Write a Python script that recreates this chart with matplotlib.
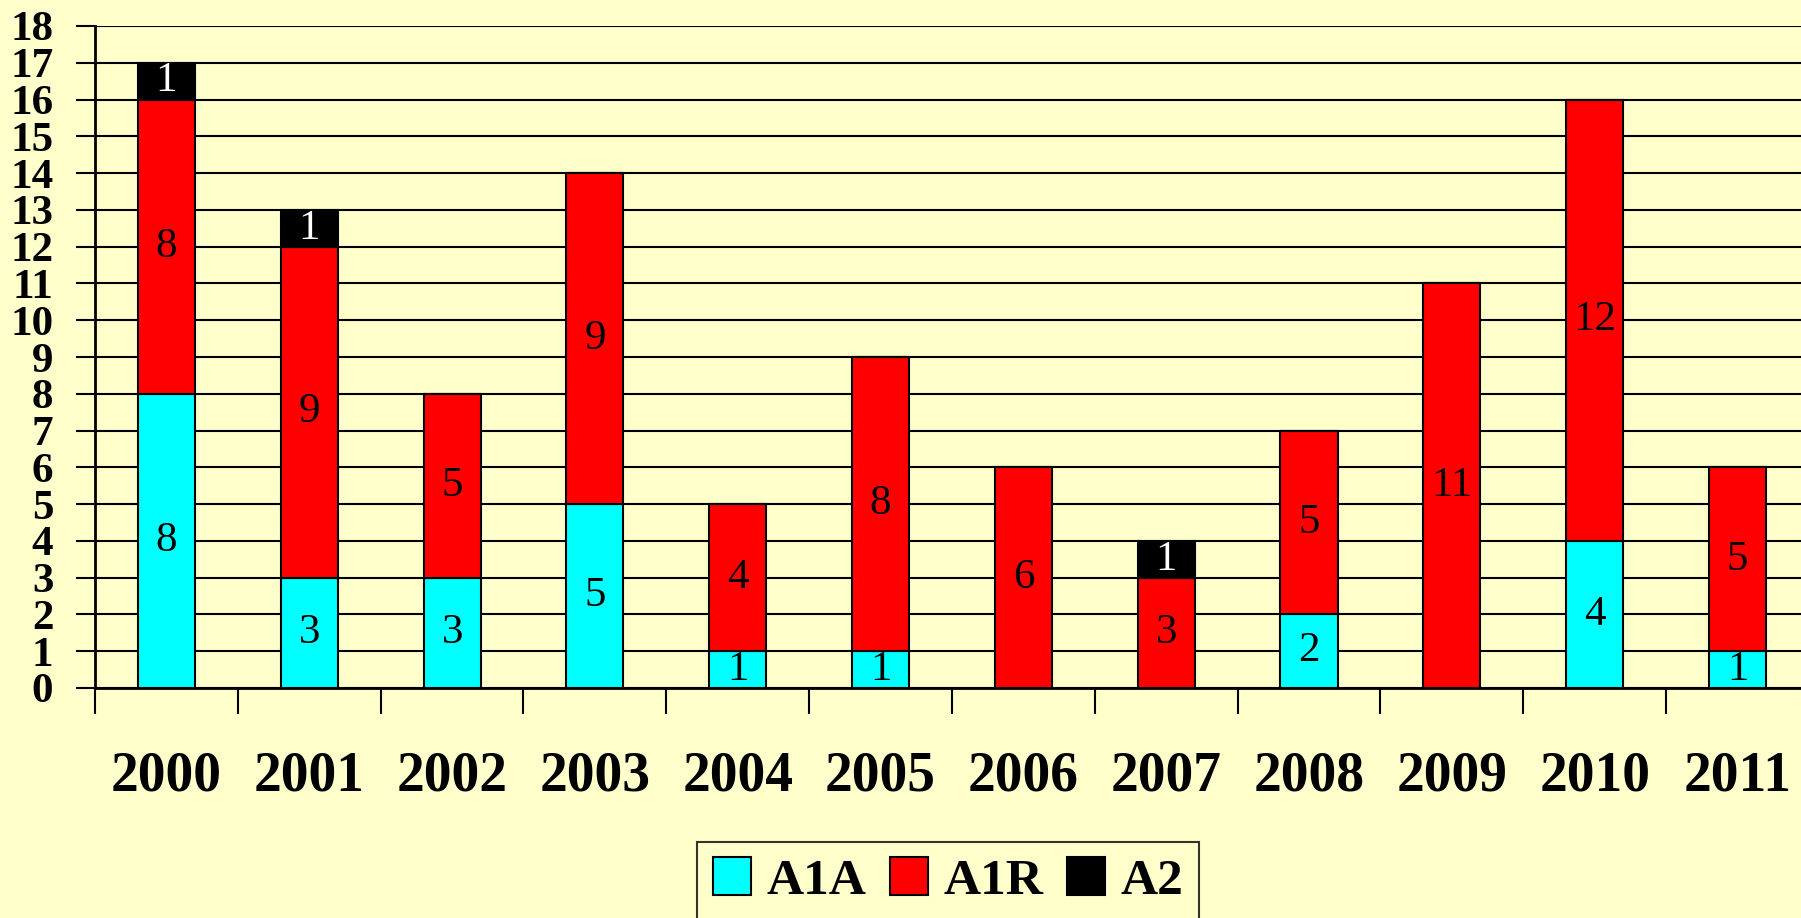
import numpy as np
import matplotlib
matplotlib.use("Agg")
import matplotlib.pyplot as plt
from matplotlib.patches import Patch

# Data
years = ["2000", "2001", "2002", "2003", "2004", "2005",
         "2006", "2007", "2008", "2009", "2010", "2011"]
a1a = [8, 3, 3, 5, 1, 1, 0, 0, 2, 0, 4, 1]
a1r = [8, 9, 5, 9, 4, 8, 6, 3, 5, 11, 12, 5]
a2 = [1, 1, 0, 0, 0, 0, 0, 1, 0, 0, 0, 0]
y_ticks = list(range(0, 19))

bg = "#FFFFCC"
plt.rcParams["font.family"] = ["Liberation Serif", "DejaVu Serif"]

fig = plt.figure(figsize=(18.01, 9.18), dpi=100, facecolor=bg)
ax = fig.add_axes([95 / 1801, 1 - 688 / 918, (1801 - 95) / 1801, (688 - 26) / 918])
ax.set_facecolor(bg)

x = np.arange(len(years))
a1a = np.array(a1a)
a1r = np.array(a1r)
a2 = np.array(a2)

series = [
    ("A1A", a1a, np.zeros(len(years)), "#00FFFF", "black"),
    ("A1R", a1r, a1a, "#FF0000", "black"),
    ("A2", a2, a1a + a1r, "#000000", "white"),
]

for name, vals, bottom, color, txt in series:
    ax.bar(x, vals, width=0.4, bottom=bottom, color=color,
           edgecolor="black", linewidth=1.5, zorder=3, label=name)
    for xi, v, b in zip(x, vals, bottom):
        if v > 0:
            ax.text(xi, b + v / 2, str(v), ha="center", va="center",
                    fontsize=31, color=txt, zorder=4)

ax.set_ylim(0, 18)
ax.set_xlim(-0.5, 11.5 - 8 / 144)
ax.set_yticks(y_ticks)
ax.set_yticklabels([str(t) for t in y_ticks], fontsize=31, fontweight="bold")
ax.yaxis.grid(True, color="black", linewidth=1.5, zorder=0)
ax.tick_params(axis="y", length=14, width=1.5, pad=16)

ax.set_xticks(x)
ax.set_xticklabels(years, fontsize=40, fontweight="bold")
ax.tick_params(axis="x", which="major", length=0, pad=45)
ax.set_xticks(np.arange(-0.5, 11.5, 1.0), minor=True)
ax.tick_params(axis="x", which="minor", length=19, width=1.5)

for s in ["top", "right"]:
    ax.spines[s].set_visible(False)
for s in ["left", "bottom"]:
    ax.spines[s].set_linewidth(2)
    ax.spines[s].set_zorder(5)

handles = [Patch(facecolor=c, edgecolor="black", linewidth=1.5, label=n)
           for n, _, _, c, _ in series]
leg = fig.legend(handles=handles, loc="upper center",
                 bbox_to_anchor=(948 / 1801, 1 - 842 / 918), ncol=3,
                 frameon=True, fancybox=False, edgecolor="black",
                 facecolor=bg, prop={"size": 37, "weight": "bold"},
                 handlelength=0.75, handleheight=0.75, handletextpad=0.3,
                 columnspacing=0.45, borderpad=0.3, borderaxespad=0)
leg.get_frame().set_linewidth(1.5)

fig.savefig("out.png", dpi=100, facecolor=bg)
